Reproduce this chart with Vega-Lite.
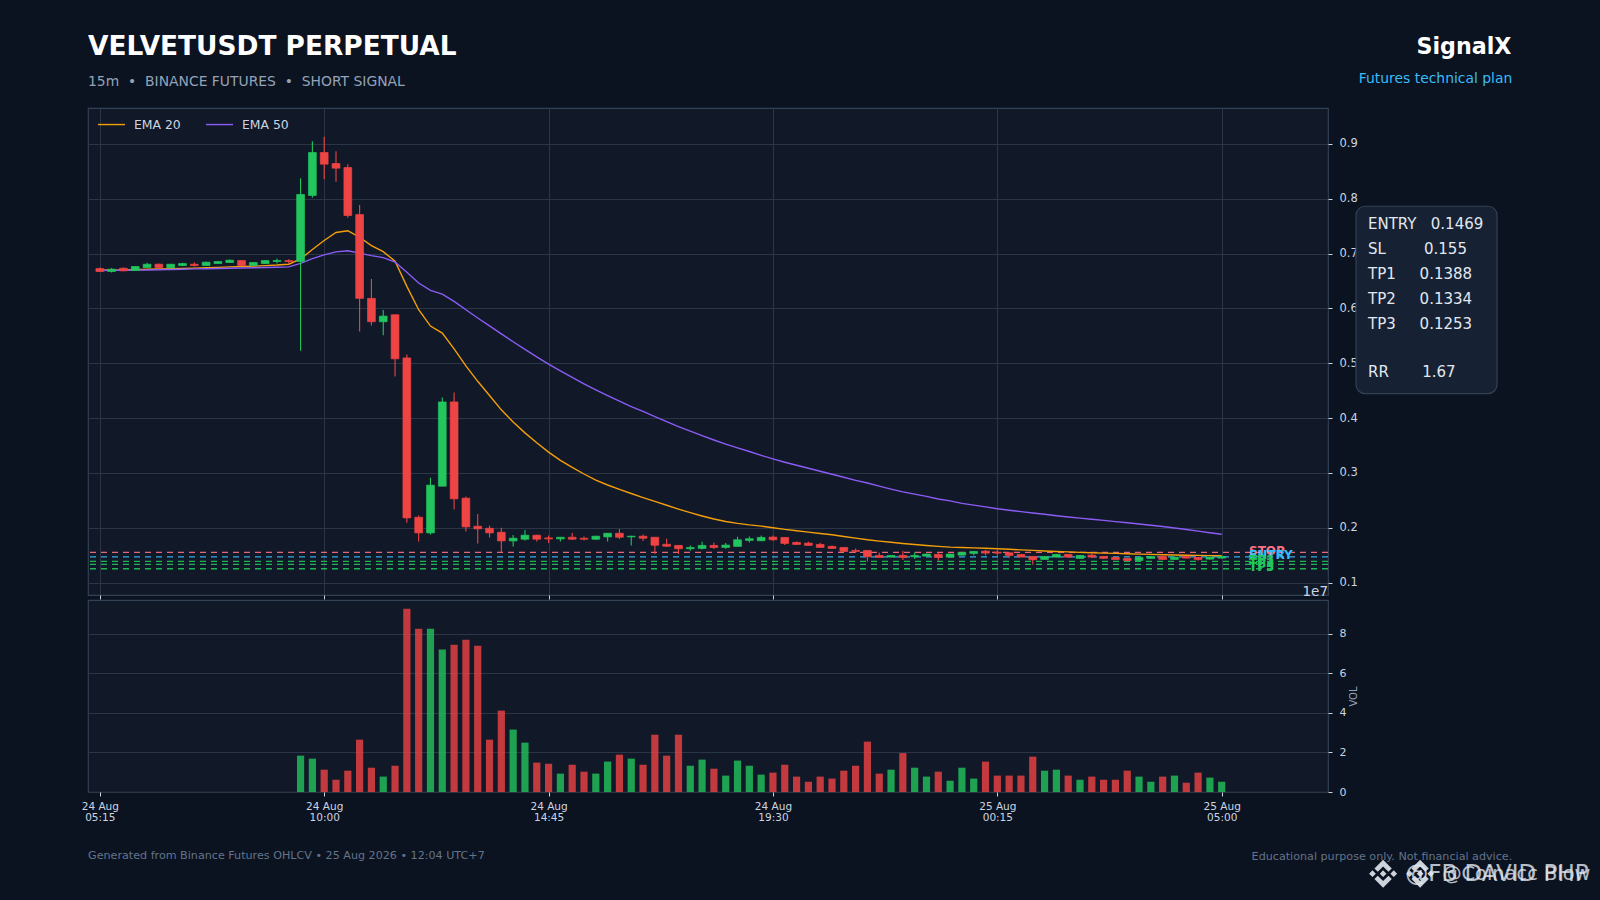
{"$schema":"https://vega.github.io/schema/vega-lite/v6.json","background":"#0b1220","autosize":{"type":"none"},"padding":{"left":88,"top":108,"right":1512,"bottom":792},"config":{"font":"DejaVu Sans","view":{"fill":"#111827","stroke":"#334155","strokeWidth":1.2},"axis":{"gridColor":"#2a3646","gridWidth":1,"domain":false,"tickColor":"#cbd5e1","tickSize":4,"labelColor":"#cbd5e1","labelFontSize":11.5}},"bounds":"flush","spacing":5,"datasets":{"note":[{}],"candles":[
{"t":"2026-08-24T05:15:00Z","o":0.6726,"c":0.6672,"h":0.6745,"l":0.6666,"v":0,"ema20":0.67,"ema50":0.669,"side":"down"},
{"t":"2026-08-24T05:30:00Z","o":0.6672,"c":0.6714,"h":0.6738,"l":0.6654,"v":0,"ema20":0.6698,"ema50":0.6692,"side":"up"},
{"t":"2026-08-24T05:45:00Z","o":0.6732,"c":0.6684,"h":0.6745,"l":0.6678,"v":0,"ema20":0.67,"ema50":0.6695,"side":"down"},
{"t":"2026-08-24T06:00:00Z","o":0.669,"c":0.6763,"h":0.6768,"l":0.6684,"v":0,"ema20":0.6705,"ema50":0.6697,"side":"up"},
{"t":"2026-08-24T06:15:00Z","o":0.6745,"c":0.6805,"h":0.683,"l":0.6745,"v":0,"ema20":0.6712,"ema50":0.67,"side":"up"},
{"t":"2026-08-24T06:30:00Z","o":0.6805,"c":0.6745,"h":0.6817,"l":0.6733,"v":0,"ema20":0.6717,"ema50":0.6704,"side":"down"},
{"t":"2026-08-24T06:45:00Z","o":0.674,"c":0.6805,"h":0.681,"l":0.674,"v":0,"ema20":0.6722,"ema50":0.6708,"side":"up"},
{"t":"2026-08-24T07:00:00Z","o":0.6781,"c":0.6817,"h":0.683,"l":0.6769,"v":0,"ema20":0.6728,"ema50":0.6712,"side":"up"},
{"t":"2026-08-24T07:15:00Z","o":0.6805,"c":0.6781,"h":0.6842,"l":0.6757,"v":0,"ema20":0.6733,"ema50":0.672,"side":"down"},
{"t":"2026-08-24T07:30:00Z","o":0.6781,"c":0.6842,"h":0.685,"l":0.6775,"v":0,"ema20":0.674,"ema50":0.6723,"side":"up"},
{"t":"2026-08-24T07:45:00Z","o":0.6817,"c":0.6854,"h":0.686,"l":0.681,"v":0,"ema20":0.6748,"ema50":0.6727,"side":"up"},
{"t":"2026-08-24T08:00:00Z","o":0.6836,"c":0.6878,"h":0.6891,"l":0.683,"v":0,"ema20":0.6757,"ema50":0.6731,"side":"up"},
{"t":"2026-08-24T08:15:00Z","o":0.6872,"c":0.6781,"h":0.6878,"l":0.6775,"v":0,"ema20":0.6763,"ema50":0.6735,"side":"down"},
{"t":"2026-08-24T08:30:00Z","o":0.6781,"c":0.6836,"h":0.6842,"l":0.6775,"v":0,"ema20":0.677,"ema50":0.674,"side":"up"},
{"t":"2026-08-24T08:45:00Z","o":0.6817,"c":0.6872,"h":0.6878,"l":0.6811,"v":0,"ema20":0.678,"ema50":0.6745,"side":"up"},
{"t":"2026-08-24T09:00:00Z","o":0.6854,"c":0.6872,"h":0.6909,"l":0.6817,"v":0,"ema20":0.679,"ema50":0.675,"side":"up"},
{"t":"2026-08-24T09:15:00Z","o":0.6872,"c":0.6854,"h":0.6897,"l":0.6817,"v":0,"ema20":0.6805,"ema50":0.6757,"side":"down"},
{"t":"2026-08-24T09:30:00Z","o":0.6854,"c":0.8076,"h":0.8374,"l":0.5225,"v":1.84,"ema20":0.69,"ema50":0.682,"side":"up"},
{"t":"2026-08-24T09:45:00Z","o":0.8058,"c":0.8842,"h":0.9049,"l":0.8015,"v":1.69,"ema20":0.7073,"ema50":0.6908,"side":"up"},
{"t":"2026-08-24T10:00:00Z","o":0.8842,"c":0.8629,"h":0.9128,"l":0.8356,"v":1.13,"ema20":0.7237,"ema50":0.6975,"side":"down"},
{"t":"2026-08-24T10:15:00Z","o":0.8641,"c":0.8556,"h":0.8866,"l":0.8307,"v":0.62,"ema20":0.7383,"ema50":0.703,"side":"down"},
{"t":"2026-08-24T10:30:00Z","o":0.8568,"c":0.7693,"h":0.8629,"l":0.765,"v":1.08,"ema20":0.7415,"ema50":0.705,"side":"down"},
{"t":"2026-08-24T10:45:00Z","o":0.771,"c":0.6182,"h":0.7886,"l":0.5579,"v":2.65,"ema20":0.7296,"ema50":0.7006,"side":"down"},
{"t":"2026-08-24T11:00:00Z","o":0.6182,"c":0.5756,"h":0.6535,"l":0.5689,"v":1.23,"ema20":0.7144,"ema50":0.6962,"side":"down"},
{"t":"2026-08-24T11:15:00Z","o":0.5756,"c":0.5859,"h":0.5969,"l":0.5512,"v":0.78,"ema20":0.7034,"ema50":0.6925,"side":"up"},
{"t":"2026-08-24T11:30:00Z","o":0.5884,"c":0.508,"h":0.5884,"l":0.4758,"v":1.33,"ema20":0.6858,"ema50":0.6845,"side":"down"},
{"t":"2026-08-24T11:45:00Z","o":0.5097,"c":0.218,"h":0.5158,"l":0.2089,"v":9.28,"ema20":0.6401,"ema50":0.6657,"side":"down"},
{"t":"2026-08-24T12:00:00Z","o":0.2192,"c":0.1906,"h":0.2223,"l":0.1748,"v":8.27,"ema20":0.5975,"ema50":0.6462,"side":"down"},
{"t":"2026-08-24T12:15:00Z","o":0.1906,"c":0.2777,"h":0.2911,"l":0.1876,"v":8.27,"ema20":0.5677,"ema50":0.6328,"side":"up"},
{"t":"2026-08-24T12:30:00Z","o":0.2759,"c":0.4294,"h":0.4373,"l":0.2759,"v":7.21,"ema20":0.5549,"ema50":0.6261,"side":"up"},
{"t":"2026-08-24T12:45:00Z","o":0.4294,"c":0.2527,"h":0.4464,"l":0.2333,"v":7.46,"ema20":0.526,"ema50":0.6127,"side":"down"},
{"t":"2026-08-24T13:00:00Z","o":0.254,"c":0.2016,"h":0.257,"l":0.193,"v":7.71,"ema20":0.495,"ema50":0.5975,"side":"down"},
{"t":"2026-08-24T13:15:00Z","o":0.2028,"c":0.198,"h":0.2253,"l":0.1711,"v":7.41,"ema20":0.467,"ema50":0.5825,"side":"down"},
{"t":"2026-08-24T13:30:00Z","o":0.1991,"c":0.1906,"h":0.204,"l":0.1821,"v":2.65,"ema20":0.441,"ema50":0.568,"side":"down"},
{"t":"2026-08-24T13:45:00Z","o":0.1918,"c":0.176,"h":0.1998,"l":0.1547,"v":4.12,"ema20":0.415,"ema50":0.5535,"side":"down"},
{"t":"2026-08-24T14:00:00Z","o":0.176,"c":0.1809,"h":0.187,"l":0.1657,"v":3.16,"ema20":0.393,"ema50":0.5392,"side":"up"},
{"t":"2026-08-24T14:15:00Z","o":0.1791,"c":0.1864,"h":0.1961,"l":0.1766,"v":2.5,"ema20":0.373,"ema50":0.5252,"side":"up"},
{"t":"2026-08-24T14:30:00Z","o":0.1864,"c":0.1791,"h":0.1872,"l":0.1748,"v":1.49,"ema20":0.355,"ema50":0.5115,"side":"down"},
{"t":"2026-08-24T14:45:00Z","o":0.1815,"c":0.1797,"h":0.1857,"l":0.1724,"v":1.43,"ema20":0.338,"ema50":0.4985,"side":"down"},
{"t":"2026-08-24T15:00:00Z","o":0.1797,"c":0.1827,"h":0.1833,"l":0.1748,"v":0.93,"ema20":0.323,"ema50":0.486,"side":"up"},
{"t":"2026-08-24T15:15:00Z","o":0.1827,"c":0.1791,"h":0.1906,"l":0.1778,"v":1.38,"ema20":0.31,"ema50":0.474,"side":"down"},
{"t":"2026-08-24T15:30:00Z","o":0.1809,"c":0.1791,"h":0.1839,"l":0.1766,"v":1.03,"ema20":0.298,"ema50":0.4625,"side":"down"},
{"t":"2026-08-24T15:45:00Z","o":0.1791,"c":0.1846,"h":0.1852,"l":0.1778,"v":0.93,"ema20":0.287,"ema50":0.4515,"side":"up"},
{"t":"2026-08-24T16:00:00Z","o":0.1833,"c":0.19,"h":0.1906,"l":0.1748,"v":1.54,"ema20":0.278,"ema50":0.441,"side":"up"},
{"t":"2026-08-24T16:15:00Z","o":0.19,"c":0.1827,"h":0.1979,"l":0.1797,"v":1.89,"ema20":0.27,"ema50":0.431,"side":"down"},
{"t":"2026-08-24T16:30:00Z","o":0.1833,"c":0.1846,"h":0.1852,"l":0.1675,"v":1.69,"ema20":0.2625,"ema50":0.421,"side":"up"},
{"t":"2026-08-24T16:45:00Z","o":0.1846,"c":0.1809,"h":0.1876,"l":0.176,"v":1.38,"ema20":0.255,"ema50":0.412,"side":"down"},
{"t":"2026-08-24T17:00:00Z","o":0.1827,"c":0.1681,"h":0.1833,"l":0.1523,"v":2.9,"ema20":0.248,"ema50":0.4025,"side":"down"},
{"t":"2026-08-24T17:15:00Z","o":0.1699,"c":0.1663,"h":0.1799,"l":0.165,"v":1.84,"ema20":0.241,"ema50":0.3935,"side":"down"},
{"t":"2026-08-24T17:30:00Z","o":0.1678,"c":0.1617,"h":0.1684,"l":0.152,"v":2.9,"ema20":0.234,"ema50":0.3845,"side":"down"},
{"t":"2026-08-24T17:45:00Z","o":0.1617,"c":0.1641,"h":0.1678,"l":0.158,"v":1.33,"ema20":0.2275,"ema50":0.376,"side":"up"},
{"t":"2026-08-24T18:00:00Z","o":0.1623,"c":0.1678,"h":0.1745,"l":0.1605,"v":1.64,"ema20":0.2215,"ema50":0.368,"side":"up"},
{"t":"2026-08-24T18:15:00Z","o":0.1678,"c":0.1641,"h":0.1733,"l":0.1611,"v":1.18,"ema20":0.216,"ema50":0.36,"side":"down"},
{"t":"2026-08-24T18:30:00Z","o":0.1641,"c":0.1684,"h":0.172,"l":0.1617,"v":0.83,"ema20":0.2115,"ema50":0.3525,"side":"up"},
{"t":"2026-08-24T18:45:00Z","o":0.166,"c":0.1781,"h":0.1836,"l":0.166,"v":1.59,"ema20":0.208,"ema50":0.3455,"side":"up"},
{"t":"2026-08-24T19:00:00Z","o":0.1769,"c":0.18,"h":0.1842,"l":0.1733,"v":1.33,"ema20":0.2052,"ema50":0.339,"side":"up"},
{"t":"2026-08-24T19:15:00Z","o":0.1763,"c":0.1824,"h":0.186,"l":0.1757,"v":0.88,"ema20":0.203,"ema50":0.332,"side":"up"},
{"t":"2026-08-24T19:30:00Z","o":0.183,"c":0.1781,"h":0.186,"l":0.1757,"v":0.98,"ema20":0.2,"ema50":0.3255,"side":"down"},
{"t":"2026-08-24T19:45:00Z","o":0.1824,"c":0.1714,"h":0.1824,"l":0.1684,"v":1.38,"ema20":0.197,"ema50":0.3195,"side":"down"},
{"t":"2026-08-24T20:00:00Z","o":0.1733,"c":0.1696,"h":0.1751,"l":0.1684,"v":0.78,"ema20":0.1945,"ema50":0.314,"side":"down"},
{"t":"2026-08-24T20:15:00Z","o":0.172,"c":0.1678,"h":0.1745,"l":0.1666,"v":0.52,"ema20":0.192,"ema50":0.3085,"side":"down"},
{"t":"2026-08-24T20:30:00Z","o":0.1696,"c":0.1641,"h":0.1726,"l":0.1641,"v":0.78,"ema20":0.1895,"ema50":0.303,"side":"down"},
{"t":"2026-08-24T20:45:00Z","o":0.166,"c":0.1623,"h":0.1678,"l":0.1611,"v":0.68,"ema20":0.1872,"ema50":0.2975,"side":"down"},
{"t":"2026-08-24T21:00:00Z","o":0.1641,"c":0.1568,"h":0.1641,"l":0.1556,"v":1.08,"ema20":0.184,"ema50":0.292,"side":"down"},
{"t":"2026-08-24T21:15:00Z","o":0.1587,"c":0.1568,"h":0.1623,"l":0.1538,"v":1.33,"ema20":0.181,"ema50":0.2865,"side":"down"},
{"t":"2026-08-24T21:30:00Z","o":0.1587,"c":0.1471,"h":0.1587,"l":0.1386,"v":2.55,"ema20":0.1781,"ema50":0.2815,"side":"down"},
{"t":"2026-08-24T21:45:00Z","o":0.1495,"c":0.1459,"h":0.155,"l":0.1459,"v":0.93,"ema20":0.1757,"ema50":0.276,"side":"down"},
{"t":"2026-08-24T22:00:00Z","o":0.1465,"c":0.1495,"h":0.1501,"l":0.1459,"v":1.13,"ema20":0.1735,"ema50":0.2705,"side":"up"},
{"t":"2026-08-24T22:15:00Z","o":0.1495,"c":0.1459,"h":0.158,"l":0.141,"v":1.97,"ema20":0.1714,"ema50":0.2655,"side":"down"},
{"t":"2026-08-24T22:30:00Z","o":0.1471,"c":0.1495,"h":0.155,"l":0.1429,"v":1.23,"ema20":0.1695,"ema50":0.2613,"side":"up"},
{"t":"2026-08-24T22:45:00Z","o":0.1483,"c":0.152,"h":0.1526,"l":0.1477,"v":0.78,"ema20":0.1677,"ema50":0.2572,"side":"up"},
{"t":"2026-08-24T23:00:00Z","o":0.1514,"c":0.1459,"h":0.155,"l":0.1404,"v":1.03,"ema20":0.166,"ema50":0.2525,"side":"down"},
{"t":"2026-08-24T23:15:00Z","o":0.1465,"c":0.152,"h":0.1526,"l":0.1459,"v":0.57,"ema20":0.1647,"ema50":0.249,"side":"up"},
{"t":"2026-08-24T23:30:00Z","o":0.1501,"c":0.155,"h":0.1556,"l":0.1495,"v":1.23,"ema20":0.164,"ema50":0.2445,"side":"up"},
{"t":"2026-08-24T23:45:00Z","o":0.1532,"c":0.1568,"h":0.1574,"l":0.1501,"v":0.68,"ema20":0.1633,"ema50":0.2413,"side":"up"},
{"t":"2026-08-25T00:00:00Z","o":0.1574,"c":0.1538,"h":0.16,"l":0.1495,"v":1.54,"ema20":0.1625,"ema50":0.238,"side":"down"},
{"t":"2026-08-25T00:15:00Z","o":0.1556,"c":0.1538,"h":0.1595,"l":0.1495,"v":0.83,"ema20":0.1617,"ema50":0.2347,"side":"down"},
{"t":"2026-08-25T00:30:00Z","o":0.1544,"c":0.1495,"h":0.155,"l":0.1447,"v":0.83,"ema20":0.1607,"ema50":0.232,"side":"down"},
{"t":"2026-08-25T00:45:00Z","o":0.1514,"c":0.1465,"h":0.152,"l":0.1465,"v":0.83,"ema20":0.1597,"ema50":0.2295,"side":"down"},
{"t":"2026-08-25T01:00:00Z","o":0.1477,"c":0.1416,"h":0.1483,"l":0.1325,"v":1.79,"ema20":0.1587,"ema50":0.227,"side":"down"},
{"t":"2026-08-25T01:15:00Z","o":0.1422,"c":0.1477,"h":0.1483,"l":0.1422,"v":1.08,"ema20":0.1577,"ema50":0.2245,"side":"up"},
{"t":"2026-08-25T01:30:00Z","o":0.1465,"c":0.1514,"h":0.152,"l":0.1459,"v":1.13,"ema20":0.1568,"ema50":0.2219,"side":"up"},
{"t":"2026-08-25T01:45:00Z","o":0.1514,"c":0.1465,"h":0.152,"l":0.1447,"v":0.83,"ema20":0.156,"ema50":0.2197,"side":"down"},
{"t":"2026-08-25T02:00:00Z","o":0.1441,"c":0.1495,"h":0.1501,"l":0.1435,"v":0.62,"ema20":0.1552,"ema50":0.2176,"side":"up"},
{"t":"2026-08-25T02:15:00Z","o":0.1501,"c":0.1465,"h":0.1538,"l":0.1447,"v":0.78,"ema20":0.1545,"ema50":0.2155,"side":"down"},
{"t":"2026-08-25T02:30:00Z","o":0.1477,"c":0.1441,"h":0.1483,"l":0.1429,"v":0.62,"ema20":0.1538,"ema50":0.2134,"side":"down"},
{"t":"2026-08-25T02:45:00Z","o":0.1459,"c":0.1422,"h":0.1465,"l":0.1416,"v":0.62,"ema20":0.1532,"ema50":0.2112,"side":"down"},
{"t":"2026-08-25T03:00:00Z","o":0.1441,"c":0.1404,"h":0.1447,"l":0.1386,"v":1.08,"ema20":0.1526,"ema50":0.209,"side":"down"},
{"t":"2026-08-25T03:15:00Z","o":0.1404,"c":0.1459,"h":0.1465,"l":0.1404,"v":0.78,"ema20":0.152,"ema50":0.2068,"side":"up"},
{"t":"2026-08-25T03:30:00Z","o":0.1441,"c":0.1477,"h":0.1483,"l":0.1435,"v":0.52,"ema20":0.1514,"ema50":0.2046,"side":"up"},
{"t":"2026-08-25T03:45:00Z","o":0.1477,"c":0.1422,"h":0.1483,"l":0.1416,"v":0.78,"ema20":0.1508,"ema50":0.2024,"side":"down"},
{"t":"2026-08-25T04:00:00Z","o":0.1422,"c":0.1465,"h":0.1471,"l":0.1416,"v":0.83,"ema20":0.1504,"ema50":0.1996,"side":"up"},
{"t":"2026-08-25T04:15:00Z","o":0.1477,"c":0.1447,"h":0.1483,"l":0.1441,"v":0.47,"ema20":0.15,"ema50":0.1968,"side":"down"},
{"t":"2026-08-25T04:30:00Z","o":0.1459,"c":0.1422,"h":0.1465,"l":0.1398,"v":0.98,"ema20":0.1496,"ema50":0.1938,"side":"down"},
{"t":"2026-08-25T04:45:00Z","o":0.1428,"c":0.1465,"h":0.1471,"l":0.1422,"v":0.73,"ema20":0.1492,"ema50":0.1908,"side":"up"},
{"t":"2026-08-25T05:00:00Z","o":0.1447,"c":0.1477,"h":0.1483,"l":0.1441,"v":0.52,"ema20":0.1489,"ema50":0.1882,"side":"up"}
],"levels":[{"name":"STOP","price":0.155,"kind":"stop"},{"name":"ENTRY","price":0.1469,"kind":"entry"},{"name":"TP1","price":0.1388,"kind":"tp"},{"name":"TP2","price":0.1334,"kind":"tp"},{"name":"TP3","price":0.1253,"kind":"tp"}]},
"vconcat":[
{"width":1240,"height":487,"layer":[
{"data":{"name":"levels"},"mark":{"type":"rule","strokeDash":[6,5],"strokeWidth":1.3,"opacity":0.9},"encoding":{"y":{"field":"price","type":"quantitative","scale":{"domain":[0.0774,0.9653],"nice":false,"zero":false},"axis":{"orient":"right","values":[0.1,0.2,0.3,0.4,0.5,0.6,0.7,0.8,0.9],"format":".1f","title":null,"grid":true,"labelPadding":7}},"color":{"field":"kind","type":"nominal","scale":{"domain":["up","down","stop","entry","tp"],"range":["#22c55e","#ef4444","#fb7185","#38bdf8","#22c55e"]},"legend":null}}},
{"data":{"name":"candles"},"mark":{"type":"line","strokeWidth":1.4},"encoding":{"x":{"field":"t","type":"temporal","scale":{"type":"utc","padding":0,"domain":[{"year":2026,"month":8,"date":24,"hours":5,"minutes":0,"utc":true},{"year":2026,"month":8,"date":25,"hours":7,"minutes":15,"utc":true}]},"axis":{"title":null,"grid":true,"labels":false,"values":[{"year":2026,"month":8,"date":24,"hours":5,"minutes":15,"utc":true},{"year":2026,"month":8,"date":24,"hours":10,"minutes":0,"utc":true},{"year":2026,"month":8,"date":24,"hours":14,"minutes":45,"utc":true},{"year":2026,"month":8,"date":24,"hours":19,"minutes":30,"utc":true},{"year":2026,"month":8,"date":25,"hours":0,"minutes":15,"utc":true},{"year":2026,"month":8,"date":25,"hours":5,"minutes":0,"utc":true}]}},"y":{"field":"ema20","type":"quantitative"},"stroke":{"datum":"EMA 20","scale":{"domain":["EMA 20","EMA 50"],"range":["#f59e0b","#8b5cf6"]},"legend":{"orient":"none","legendX":9,"legendY":2,"direction":"horizontal","title":null,"symbolType":"stroke","symbolSize":729,"symbolStrokeWidth":1.4,"labelColor":"#cbd5e1","labelFontSize":12.4,"columnPadding":22,"labelOffset":8}}}},
{"data":{"name":"candles"},"mark":{"type":"line","strokeWidth":1.4},"encoding":{"x":{"field":"t","type":"temporal"},"y":{"field":"ema50","type":"quantitative"},"stroke":{"datum":"EMA 50"}}},
{"data":{"name":"candles"},"mark":{"type":"rule","strokeWidth":1.1},"encoding":{"x":{"field":"t","type":"temporal"},"y":{"field":"l","type":"quantitative"},"y2":{"field":"h"},"color":{"field":"side","type":"nominal","legend":null}}},
{"data":{"name":"candles"},"mark":{"type":"bar","size":7.8,"strokeWidth":0.7},"encoding":{"x":{"field":"t","type":"temporal"},"y":{"field":"o","type":"quantitative"},"y2":{"field":"c"},"color":{"field":"side","type":"nominal","legend":null},"stroke":{"condition":{"test":"datum.side==='up'","value":"#22c55e"},"value":"#ef4444"}}},
{"data":{"name":"levels"},"mark":{"type":"text","fontWeight":"bold","fontSize":12,"align":"left","baseline":"middle","dy":-1.5},"encoding":{"x":{"datum":{"year":2026,"month":8,"date":25,"hours":5,"minutes":34,"seconds":40,"utc":true},"type":"temporal"},"y":{"field":"price","type":"quantitative"},"text":{"field":"name"},"color":{"field":"kind","type":"nominal","legend":null}}},
{"data":{"name":"note"},"mark":{"type":"rect","fill":"#162133","stroke":"#334155","strokeWidth":1.2,"cornerRadius":9},"encoding":{"x":{"datum":{"year":2026,"month":8,"date":25,"hours":7,"minutes":50,"seconds":36,"utc":true},"type":"temporal"},"x2":{"datum":{"year":2026,"month":8,"date":25,"hours":10,"minutes":49,"seconds":42,"utc":true}},"y":{"datum":0.7862,"type":"quantitative"},"y2":{"datum":0.4446}}},
{"data":{"name":"note"},"mark":{"type":"text","text":["ENTRY\u00a0\u00a0\u00a00.1469","SL\u00a0\u00a0\u00a0\u00a0\u00a0\u00a0\u00a0\u00a00.155","TP1\u00a0\u00a0\u00a0\u00a0\u00a00.1388","TP2\u00a0\u00a0\u00a0\u00a0\u00a00.1334","TP3\u00a0\u00a0\u00a0\u00a0\u00a00.1253"],"lineHeight":25,"fontSize":15,"color":"#e2e8f0","align":"left","baseline":"top"},"encoding":{"x":{"datum":{"year":2026,"month":8,"date":25,"hours":8,"minutes":5,"seconds":48,"utc":true},"type":"temporal"},"y":{"datum":0.7665,"type":"quantitative"}}},
{"data":{"name":"note"},"mark":{"type":"text","text":"RR\u00a0\u00a0\u00a0\u00a0\u00a0\u00a0\u00a01.67","fontSize":15,"color":"#e2e8f0","align":"left","baseline":"middle"},"encoding":{"x":{"datum":{"year":2026,"month":8,"date":25,"hours":8,"minutes":5,"seconds":48,"utc":true},"type":"temporal"},"y":{"datum":0.4838,"type":"quantitative"}}},
{"data":{"name":"note"},"mark":{"type":"text","text":"1e7","fontSize":13.5,"color":"#cbd5e1","align":"right","baseline":"middle"},"encoding":{"x":{"datum":{"year":2026,"month":8,"date":25,"hours":7,"minutes":15,"utc":true},"type":"temporal"},"y":{"datum":0.0826,"type":"quantitative"}}},
{"data":{"name":"note"},"mark":{"type":"text","text":"VELVETUSDT PERPETUAL","fontSize":26.4,"fontWeight":"bold","color":"#ffffff","align":"left","baseline":"middle"},"encoding":{"x":{"datum":{"year":2026,"month":8,"date":24,"hours":5,"minutes":0,"utc":true},"type":"temporal"},"y":{"datum":1.0774,"type":"quantitative"}}},
{"data":{"name":"note"},"mark":{"type":"text","text":"15m\u00a0\u00a0•\u00a0\u00a0BINANCE FUTURES\u00a0\u00a0•\u00a0\u00a0SHORT SIGNAL","fontSize":13.9,"color":"#94a3b8","align":"left","baseline":"middle"},"encoding":{"x":{"datum":{"year":2026,"month":8,"date":24,"hours":5,"minutes":0,"utc":true},"type":"temporal"},"y":{"datum":1.0125,"type":"quantitative"}}},
{"data":{"name":"note"},"mark":{"type":"text","text":"SignalX","fontSize":22.2,"fontWeight":"bold","color":"#ffffff","align":"right","baseline":"middle"},"encoding":{"x":{"datum":{"year":2026,"month":8,"date":25,"hours":11,"minutes":8,"utc":true},"type":"temporal"},"y":{"datum":1.0762,"type":"quantitative"}}},
{"data":{"name":"note"},"mark":{"type":"text","text":"Futures technical plan","fontSize":13.9,"color":"#38bdf8","align":"right","baseline":"middle"},"encoding":{"x":{"datum":{"year":2026,"month":8,"date":25,"hours":11,"minutes":9,"utc":true},"type":"temporal"},"y":{"datum":1.0186,"type":"quantitative"}}}
]},
{"width":1240,"height":192,"layer":[
{"data":{"name":"candles"},"mark":{"type":"bar","size":7.2,"opacity":0.8},"encoding":{"x":{"field":"t","type":"temporal","scale":{"type":"utc","padding":0,"domain":[{"year":2026,"month":8,"date":24,"hours":5,"minutes":0,"utc":true},{"year":2026,"month":8,"date":25,"hours":7,"minutes":15,"utc":true}]},"axis":{"title":null,"grid":false,"values":[{"year":2026,"month":8,"date":24,"hours":5,"minutes":15,"utc":true},{"year":2026,"month":8,"date":24,"hours":10,"minutes":0,"utc":true},{"year":2026,"month":8,"date":24,"hours":14,"minutes":45,"utc":true},{"year":2026,"month":8,"date":24,"hours":19,"minutes":30,"utc":true},{"year":2026,"month":8,"date":25,"hours":0,"minutes":15,"utc":true},{"year":2026,"month":8,"date":25,"hours":5,"minutes":0,"utc":true}],"labelExpr":"[utcFormat(datum.value,'%d %b'),utcFormat(datum.value,'%H:%M')]","labelFontSize":10.5,"labelLineHeight":11.5,"labelPadding":5,"labelAlign":"center"}},"y":{"field":"v","type":"quantitative","stack":null,"scale":{"domain":[0,9.72],"nice":false},"axis":{"orient":"right","values":[0,2,4,6,8],"format":"d","title":"VOL","titleColor":"#94a3b8","titleFontSize":10,"titleFontWeight":"normal","titleAngle":270,"titlePadding":13,"grid":true,"labelPadding":7,"labelFontSize":11}},"color":{"field":"side","type":"nominal","scale":{"domain":["up","down"],"range":["#22c55e","#ef4444"]},"legend":null}}},
{"data":{"name":"note"},"mark":{"type":"text","text":"Generated from Binance Futures OHLCV • 25 Aug 2026 • 12:04 UTC+7","fontSize":11.15,"color":"#64748b","align":"left","baseline":"middle"},"encoding":{"x":{"datum":{"year":2026,"month":8,"date":24,"hours":5,"minutes":0,"utc":true},"type":"temporal"},"y":{"datum":-3.225,"type":"quantitative"}}},
{"data":{"name":"note"},"mark":{"type":"text","text":"Educational purpose only. Not financial advice.","fontSize":11.15,"color":"#64748b","align":"right","baseline":"middle"},"encoding":{"x":{"datum":{"year":2026,"month":8,"date":25,"hours":11,"minutes":9,"utc":true},"type":"temporal"},"y":{"datum":-3.3,"type":"quantitative"}}},
{"data":{"name":"note"},"mark":{"type":"point","filled":true,"shape":"M0 -1L.62 -.38L.38 -.14L0 -.52L-.38 -.14L-.62 -.38ZM0 1L.62 .38L.38 .14L0 .52L-.38 .14L-.62 .38ZM0 -.24L.24 0L0 .24L-.24 0ZM-.76 -.24L-.52 0L-.76 .24L-1 0ZM.76 -.24L.52 0L.76 .24L1 0Z","size":784,"color":"#e2e8f0","opacity":0.9},"encoding":{"x":{"datum":{"year":2026,"month":8,"date":25,"hours":8,"minutes":25,"utc":true},"type":"temporal"},"y":{"datum":-4.137,"type":"quantitative"}}},
{"data":{"name":"note"},"mark":{"type":"point","filled":true,"shape":"M0 -1L.62 -.38L.38 -.14L0 -.52L-.38 -.14L-.62 -.38ZM0 1L.62 .38L.38 .14L0 .52L-.38 .14L-.62 .38ZM0 -.24L.24 0L0 .24L-.24 0ZM-.76 -.24L-.52 0L-.76 .24L-1 0ZM.76 -.24L.52 0L.76 .24L1 0Z","size":784,"color":"#e2e8f0","opacity":0.9},"encoding":{"x":{"datum":{"year":2026,"month":8,"date":25,"hours":9,"minutes":12,"utc":true},"type":"temporal"},"y":{"datum":-4.137,"type":"quantitative"}}},
{"data":{"name":"note"},"mark":{"type":"text","text":"@FB DAVID PHP","fontSize":23,"color":"#e2e8f0","opacity":0.8,"align":"left","baseline":"middle"},"encoding":{"x":{"datum":{"year":2026,"month":8,"date":25,"hours":8,"minutes":53,"utc":true},"type":"temporal"},"y":{"datum":-4.137,"type":"quantitative"}}},
{"data":{"name":"note"},"mark":{"type":"text","text":"@Coinacc Blow","fontSize":19.4,"color":"#e2e8f0","opacity":0.8,"align":"left","baseline":"middle"},"encoding":{"x":{"datum":{"year":2026,"month":8,"date":25,"hours":9,"minutes":40,"utc":true},"type":"temporal"},"y":{"datum":-4.137,"type":"quantitative"}}}
]}
]}
